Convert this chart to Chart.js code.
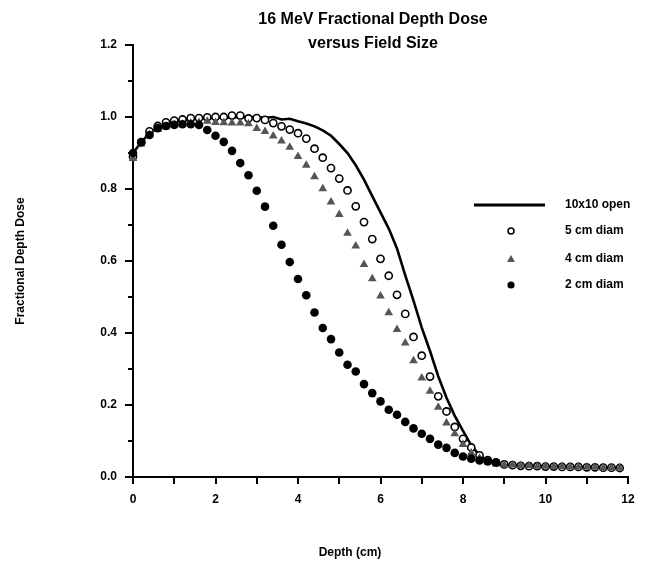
<!DOCTYPE html>
<html>
<head>
<meta charset="utf-8">
<script src="https://cdn.jsdelivr.net/npm/chart.js@4.4.1/dist/chart.umd.min.js"></script>
<style>
    html, body { margin: 0; padding: 0; background: #fff; }
    #wrap { width: 651px; height: 563px; position: relative; }
</style>
</head>
<body>
<div id="wrap"><canvas id="pdd-chart"></canvas></div>
<script>
// depth (cm) sampled every 0.2 cm
const depths = [0, 0.2, 0.4, 0.6, 0.8, 1.0, 1.2, 1.4, 1.6, 1.8,
    2.0, 2.2, 2.4, 2.6, 2.8, 3.0, 3.2, 3.4, 3.6, 3.8,
    4.0, 4.2, 4.4, 4.6, 4.8, 5.0, 5.2, 5.4, 5.6, 5.8,
    6.0, 6.2, 6.4, 6.6, 6.8, 7.0, 7.2, 7.4, 7.6, 7.8,
    8.0, 8.2, 8.4, 8.6, 8.8, 9.0, 9.2, 9.4, 9.6, 9.8,
    10.0, 10.2, 10.4, 10.6, 10.8, 11.0, 11.2, 11.4, 11.6, 11.8]

const open10x10 = [0.90, 0.93, 0.955, 0.97, 0.98, 0.987, 0.99, 0.993, 0.995, 0.997,
    0.998, 0.998, 0.999, 1.0, 1.0, 1.0, 0.998, 1.0, 0.993, 0.995,
    0.988, 0.982, 0.974, 0.963, 0.948, 0.925, 0.90, 0.866, 0.826, 0.78,
    0.735, 0.69, 0.635, 0.56, 0.49, 0.415, 0.35, 0.28, 0.22, 0.17,
    0.128, 0.088, 0.06, 0.045, 0.037, 0.033, 0.031, 0.030, 0.029, 0.029,
    0.028, 0.028, 0.027, 0.027, 0.027, 0.026, 0.026, 0.026, 0.025, 0.025]

const diam5 = [0.89, 0.93, 0.96, 0.975, 0.985, 0.99, 0.993, 0.997, 0.997, 0.999,
    1.0, 1.0, 1.004, 1.004, 0.996, 0.997, 0.992, 0.983, 0.974, 0.965,
    0.955, 0.94, 0.912, 0.887, 0.858, 0.829, 0.796, 0.752, 0.708, 0.661,
    0.606, 0.559, 0.506, 0.453, 0.389, 0.337, 0.279, 0.224, 0.182, 0.139,
    0.106, 0.082, 0.060, 0.047, 0.040, 0.035, 0.033, 0.031, 0.030, 0.030,
    0.029, 0.029, 0.028, 0.028, 0.028, 0.027, 0.027, 0.026, 0.026, 0.025]

const diam4 = [0.885, 0.925, 0.95, 0.965, 0.972, 0.978, 0.98, 0.983, 0.985, 0.988,
    0.985, 0.984, 0.983, 0.983, 0.981, 0.968, 0.96, 0.947, 0.933, 0.916,
    0.89, 0.866, 0.834, 0.801, 0.764, 0.729, 0.677, 0.642, 0.59, 0.551,
    0.503, 0.456, 0.41, 0.372, 0.323, 0.275, 0.238, 0.194, 0.15, 0.12,
    0.09, 0.067, 0.052, 0.042, 0.036, 0.034, 0.033, 0.032, 0.031, 0.030,
    0.030, 0.029, 0.029, 0.028, 0.028, 0.027, 0.027, 0.026, 0.026, 0.025]

// 2 cm series stops at 8.8 cm
const diam2 = [0.90, 0.93, 0.95, 0.969, 0.975, 0.978, 0.98, 0.98, 0.978, 0.964,
    0.948, 0.931, 0.906, 0.872, 0.838, 0.795, 0.751, 0.698, 0.645, 0.597,
    0.55, 0.505, 0.457, 0.414, 0.383, 0.346, 0.312, 0.293, 0.258, 0.233,
    0.21, 0.187, 0.173, 0.153, 0.135, 0.12, 0.106, 0.09, 0.081, 0.067,
    0.057, 0.051, 0.046, 0.043, 0.041]

const seriesNames = ['10x10 open', '5 cm diam', '4 cm diam', '2 cm diam']
const xTicks = [0, 2, 4, 6, 8, 10, 12]
const yTicks = [0, 0.2, 0.4, 0.6, 0.8, 1.0, 1.2]

const FONT = '"Liberation Sans", Arial, sans-serif'
const GREY = '#555555'

function toPoints(values) {
    return values.map((v, i) => ({ x: depths[i], y: v }))
}

// minor/major tick marks, titles and the inset legend
const decorPlugin = {
    id: 'decor',
    afterDraw(chart) {
        const ctx = chart.ctx
        const xs = chart.scales.x
        const ys = chart.scales.y
        const area = chart.chartArea
        ctx.save()
        ctx.strokeStyle = '#000'
        ctx.lineWidth = 2
        ctx.beginPath()
        for (let k = 0; k <= 12; k++) {
            const py = Math.round(ys.getPixelForValue(k / 10))
            const len = k % 2 === 0 ? 8 : 5
            ctx.moveTo(area.left, py)
            ctx.lineTo(area.left - len, py)
        }
        for (let k = 0; k <= 12; k++) {
            const px = Math.round(xs.getPixelForValue(k))
            ctx.moveTo(px, area.bottom)
            ctx.lineTo(px, area.bottom + 7)
        }
        ctx.stroke()

        ctx.fillStyle = '#000'
        ctx.textAlign = 'center'
        ctx.textBaseline = 'middle'
        ctx.font = 'bold 16px ' + FONT
        ctx.fillText('16 MeV Fractional Depth Dose', 373, 20)
        ctx.fillText('versus Field Size', 373, 44)
        ctx.font = 'bold 12px ' + FONT
        ctx.fillText('Depth (cm)', 350, 553)

        // legend
        const rows = [205, 231, 259, 285]
        const mx = 511
        ctx.textAlign = 'left'
        rows.forEach((ry, i) => {
            ctx.fillStyle = '#000'
            ctx.fillText(seriesNames[i], 565, ry)
            ctx.beginPath()
            if (i === 0) {
                ctx.lineWidth = 3
                ctx.moveTo(474, ry)
                ctx.lineTo(545, ry)
                ctx.stroke()
            } else if (i === 1) {
                ctx.lineWidth = 1.5
                ctx.fillStyle = '#fff'
                ctx.arc(mx, ry, 3, 0, Math.PI * 2)
                ctx.fill()
                ctx.stroke()
            } else if (i === 2) {
                ctx.fillStyle = GREY
                ctx.moveTo(mx, ry - 4)
                ctx.lineTo(mx + 4, ry + 3)
                ctx.lineTo(mx - 4, ry + 3)
                ctx.closePath()
                ctx.fill()
            } else {
                ctx.arc(mx, ry, 3.6, 0, Math.PI * 2)
                ctx.fill()
            }
        })
        ctx.restore()
    }
}

class DepthDoseChart {
    constructor() {
        this.chart = null
    }
    setup() {
        const data = {
            datasets: [{
                label: seriesNames[0],
                type: 'line',
                data: toPoints(open10x10),
                borderColor: '#000',
                borderWidth: 2.6,
                pointRadius: 0,
                tension: 0,
                clip: false,
                order: 4
            }, {
                label: seriesNames[1],
                data: toPoints(diam5),
                pointStyle: 'circle',
                pointRadius: 3.6,
                backgroundColor: '#fff',
                borderColor: '#000',
                borderWidth: 1.6,
                clip: false,
                order: 3
            }, {
                label: seriesNames[2],
                data: toPoints(diam4),
                pointStyle: 'triangle',
                pointRadius: 5,
                backgroundColor: GREY,
                borderColor: GREY,
                borderWidth: 0,
                clip: false,
                order: 2
            }, {
                label: seriesNames[3],
                data: toPoints(diam2),
                pointStyle: 'circle',
                pointRadius: 4.3,
                backgroundColor: '#000',
                borderColor: '#000',
                borderWidth: 0,
                clip: false,
                order: 1
            }]
        }
        const ctx = document.getElementById('pdd-chart')
        this.chart = new Chart(ctx, {
            type: 'scatter',
            data: data,
            plugins: [decorPlugin],
            options: {
                responsive: true,
                maintainAspectRatio: false,
                animation: false,
                layout: { padding: { top: 45, right: 23, bottom: 0, left: 0 } },
                plugins: {
                    legend: { display: false },
                    title: { display: false },
                    tooltip: { enabled: false }
                },
                scales: {
                    x: {
                        type: 'linear',
                        min: 0,
                        max: 12,
                        afterFit: (scale) => { scale.height = 86 },
                        afterBuildTicks: (scale) => { scale.ticks = xTicks.map(v => ({ value: v })) },
                        grid: { drawOnChartArea: false, drawTicks: false },
                        border: { display: true, color: '#000', width: 2 },
                        ticks: {
                            padding: 15,
                            color: '#000',
                            font: { family: FONT, size: 12, weight: 'bold' },
                            callback: (v) => String(v)
                        }
                    },
                    y: {
                        type: 'linear',
                        min: 0,
                        max: 1.2,
                        afterFit: (scale) => { scale.width = 133 },
                        afterBuildTicks: (scale) => { scale.ticks = yTicks.map(v => ({ value: v })) },
                        grid: { drawOnChartArea: false, drawTicks: false },
                        border: { display: true, color: '#000', width: 2 },
                        title: {
                            display: true,
                            text: 'Fractional Depth Dose',
                            color: '#000',
                            padding: { top: 13, bottom: 0 },
                            font: { family: FONT, size: 12, weight: 'bold' }
                        },
                        ticks: {
                            padding: 16,
                            color: '#000',
                            font: { family: FONT, size: 12, weight: 'bold' },
                            callback: (v) => Number(v).toFixed(1)
                        }
                    }
                }
            }
        })
    }
}

var depthDoseChart = new DepthDoseChart()
depthDoseChart.setup()
</script>
</body>
</html>
